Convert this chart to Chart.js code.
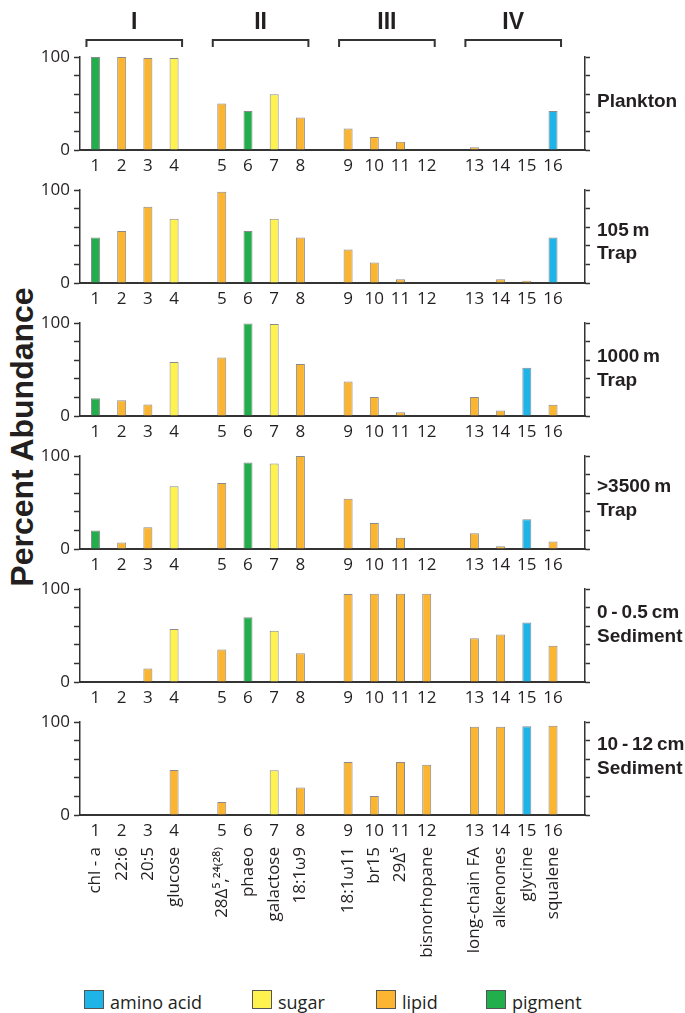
<!DOCTYPE html>
<html>
<head>
<meta charset="utf-8">
<script src="https://cdn.jsdelivr.net/npm/chart.js@4.4.1/dist/chart.umd.min.js"></script>
<style>
  body { margin: 0; background: #fff; }
  #fig { position: relative; width: 685px; height: 1013px; overflow: hidden; color: #231f20; font-family: "Open Sans", sans-serif; }
  #fig canvas { position: absolute; left: 0; }
  #ytitle {
    position: absolute; left: 24px; top: 437px; width: 300px; height: 40px;
    margin: -20px 0 0 -150px; line-height: 40px; text-align: center; white-space: nowrap;
    transform: rotate(-90deg); font: bold 32px "Liberation Sans Narrow", sans-serif;
  }
  .swatch { position: absolute; top: 990px; width: 20px; height: 19px; box-sizing: border-box; border: 1px solid #555; }
  .keytext { position: absolute; top: 990px; font-size: 18px; line-height: 24px; white-space: nowrap; }
</style>
</head>
<body>
<div id="fig">
  <div id="ytitle">Percent Abundance</div>
</div>
<script>
// compounds (x categories)
const numbers = ['1', '2', '3', '4', '5', '6', '7', '8', '9', '10', '11', '12', '13', '14', '15', '16'];
const names = ['chl - a', '22:6', '20:5', 'glucose', '28\u0394\u2075,\u00b2\u2074\u207d\u00b2\u2078\u207e', 'phaeo', 'galactose', '18:1\u03c99',
  '18:1\u03c911', 'br15', '29\u0394\u2075', 'bisnorhopane', 'long-chain FA', 'alkenones', 'glycine', 'squalene'];
const groupNames = ['I', 'II', 'III', 'IV'];

// percent abundance per sample
const plankton = [100, 100, 99, 99, 50, 42, 60, 35, 23, 14, 9, 0, 3, 0, 0, 42];
const trap105 = [49, 56, 82, 69, 98, 56, 69, 49, 36, 22, 4, 0, 0, 4, 2.5, 49];
const trap1000 = [19, 17, 12.5, 58, 63, 99.5, 99, 56, 37, 20.5, 4, 0, 20.5, 6, 52, 12];
const trap3500 = [20, 7, 23.5, 67.5, 71, 93, 92, 100, 54, 28, 12, 0, 17, 3, 32, 8];
const sed0 = [0, 0, 14.5, 57, 35, 69.5, 55, 31, 94.5, 95, 95, 95, 47, 51, 64, 39];
const sed10 = [0, 0, 0, 48.5, 14, 0, 48, 29.5, 57, 20.5, 57, 54, 95, 95, 95.5, 96];

// compound class of each bar as drawn (A amino acid, S sugar, L lipid, P pigment)
const planktonTypes = ['P', 'L', 'L', 'S', 'L', 'P', 'S', 'L', 'L', 'L', 'L', 'L', 'L', 'L', 'L', 'A'];
const trap105Types = ['P', 'L', 'L', 'S', 'L', 'P', 'S', 'L', 'L', 'L', 'L', 'L', 'L', 'L', 'L', 'A'];
const trap1000Types = ['P', 'L', 'L', 'S', 'L', 'P', 'S', 'L', 'L', 'L', 'L', 'L', 'L', 'L', 'A', 'L'];
const trap3500Types = ['P', 'L', 'L', 'S', 'L', 'P', 'S', 'L', 'L', 'L', 'L', 'L', 'L', 'L', 'A', 'L'];
const sed0Types = ['P', 'L', 'L', 'S', 'L', 'P', 'S', 'L', 'L', 'L', 'L', 'L', 'L', 'L', 'A', 'L'];
const sed10Types = ['P', 'L', 'L', 'L', 'L', 'P', 'S', 'L', 'L', 'L', 'L', 'L', 'L', 'L', 'A', 'L'];

const siteNames = [['Plankton'], ['105 m', 'Trap'], ['1000 m', 'Trap'], ['>3500 m', 'Trap'], ['0 - 0.5 cm', 'Sediment'], ['10 - 12 cm', 'Sediment']];
const legendTypes = ['A', 'S', 'L', 'P'];
const legendNames = ['amino acid', 'sugar', 'lipid', 'pigment'];

const typeColor = { A: '#1fb4e8', S: '#fff24f', L: '#fbb531', P: '#22ae4b' };
const INK = '#231f20';
const AXIS = '#333333';

// layout
const PANEL_TOP = [57, 190, 323, 456, 589, 722];
const LABEL_OFFSET = [45, 40.5, 34, 31, 24, 23];
const PLOT_H = 93;
const NUM_H = 30;
const NAME_H = 130;
const LEFT_W = 80;
const PLOT_RIGHT = 585;
const KEY_LEFT = [84, 252, 376, 486];

const panels = [
  { values: plankton, types: planktonTypes },
  { values: trap105, types: trap105Types },
  { values: trap1000, types: trap1000Types },
  { values: trap3500, types: trap3500Types },
  { values: sed0, types: sed0Types },
  { values: sed10, types: sed10Types },
];

// bars sit in four groups of four with a wider gap between groups
const xPos = numbers.map((_, k) => k + 1 + 0.82 * Math.floor(k / 4));
const xMin = xPos[0] - 0.59;
const xMax = xPos[xPos.length - 1] + 1.22;

Chart.defaults.font.family = '"Open Sans", sans-serif';
Chart.defaults.color = INK;

const panelDecor = {
  id: 'panelDecor',
  afterDraw(chart, args, opts) {
    const { ctx, chartArea } = chart;
    ctx.save();
    ctx.fillStyle = INK;
    ctx.textBaseline = 'middle';
    ctx.textAlign = 'left';
    ctx.font = 'bold 19px "Liberation Sans", sans-serif';
    ctx.wordSpacing = '-1.5px';
    opts.lines.forEach((t, k) => ctx.fillText(t, chartArea.right + 12, chartArea.top + opts.offset + k * 23.5));
    ctx.wordSpacing = '0px';
    if (opts.groups) {
      const x = chart.scales.x;
      ctx.strokeStyle = AXIS;
      ctx.lineWidth = 2;
      ctx.textAlign = 'center';
      ctx.font = 'bold 23px "Liberation Sans", sans-serif';
      groupNames.forEach((g, gi) => {
        const a = x.getPixelForValue(xPos[gi * 4]) - 9;
        const b = x.getPixelForValue(xPos[gi * 4 + 3]) + 8;
        const yb = chartArea.top - 17;
        ctx.beginPath();
        ctx.moveTo(a, yb + 7);
        ctx.lineTo(a, yb);
        ctx.lineTo(b, yb);
        ctx.lineTo(b, yb + 7);
        ctx.stroke();
        ctx.fillText(g, (a + b) / 2, chartArea.top - 34);
      });
    }
    ctx.restore();
  }
};

function fixedTicks(scale) {
  scale.ticks = xPos.map(v => ({ value: v }));
}

const fig = document.getElementById('fig');

panels.forEach((p, i) => {
  const last = i === panels.length - 1;
  const padTop = i === 0 ? PANEL_TOP[0] : 15;
  const canvas = document.createElement('canvas');
  canvas.width = 685;
  canvas.height = padTop + PLOT_H + NUM_H + (last ? NAME_H : 0);
  canvas.style.top = (PANEL_TOP[i] - padTop) + 'px';
  fig.appendChild(canvas);

  const scales = {
    x: {
      type: 'linear', position: 'bottom', min: xMin, max: xMax, offset: false, weight: 0,
      afterBuildTicks: fixedTicks,
      afterFit: s => { s.height = NUM_H; },
      ticks: { autoSkip: false, minRotation: 0, maxRotation: 0, padding: 6, color: INK, font: { size: 17 }, callback: (v, k) => numbers[k] },
      grid: { display: false, drawTicks: false },
      border: { color: AXIS, width: 2 },
    },
    y: {
      position: 'left', min: 0, max: 100,
      afterFit: s => { s.width = LEFT_W; },
      ticks: { stepSize: 20, autoSkip: false, padding: 4, color: INK, font: { size: 17 }, callback: v => (Math.round(v) === 0 || Math.round(v) === 100 ? String(Math.round(v)) : '') },
      grid: { drawOnChartArea: false, tickLength: 6, tickColor: AXIS, tickWidth: 1.5 },
      border: { color: AXIS, width: 1.5 },
    },
    y2: {
      position: 'right', min: 0, max: 100,
      afterFit: s => { s.width = 685 - PLOT_RIGHT; },
      ticks: { stepSize: 20, autoSkip: false, callback: () => '' },
      grid: { drawOnChartArea: false, tickLength: 5, tickColor: AXIS, tickWidth: 1.5 },
      border: { color: AXIS, width: 1.5 },
    },
  };
  if (last) {
    scales.x2 = {
      type: 'linear', position: 'bottom', min: xMin, max: xMax, offset: false, weight: 1,
      afterBuildTicks: fixedTicks,
      afterFit: s => { s.height = NAME_H; },
      ticks: { autoSkip: false, minRotation: 90, maxRotation: 90, padding: 2, color: INK, font: { size: 17 }, callback: (v, k) => names[k] },
      grid: { display: false, drawTicks: false },
      border: { display: false },
    };
  }

  new Chart(canvas, {
    type: 'bar',
    data: {
      datasets: [{
        data: p.values.map((v, k) => ({ x: xPos[k], y: v })),
        backgroundColor: p.types.map(t => typeColor[t]),
        borderColor: '#8a8a8a',
        borderWidth: 1,
        barThickness: 9,
        inflateAmount: 0,
        xAxisID: 'x',
        yAxisID: 'y',
      }],
    },
    options: {
      responsive: false,
      animation: false,
      devicePixelRatio: 1,
      layout: { padding: { top: padTop, left: 0, right: 0, bottom: 0 } },
      scales,
      plugins: {
        legend: { display: false },
        tooltip: { enabled: false },
        panelDecor: { lines: siteNames[i], offset: LABEL_OFFSET[i], groups: i === 0 },
      },
    },
    plugins: [panelDecor],
  });
});

// key
legendTypes.forEach((t, k) => {
  const sw = document.createElement('div');
  sw.className = 'swatch';
  sw.style.left = KEY_LEFT[k] + 'px';
  sw.style.background = typeColor[t];
  fig.appendChild(sw);
  const tx = document.createElement('div');
  tx.className = 'keytext';
  tx.style.left = (KEY_LEFT[k] + 26) + 'px';
  tx.textContent = legendNames[k];
  fig.appendChild(tx);
});
</script>
</body>
</html>
